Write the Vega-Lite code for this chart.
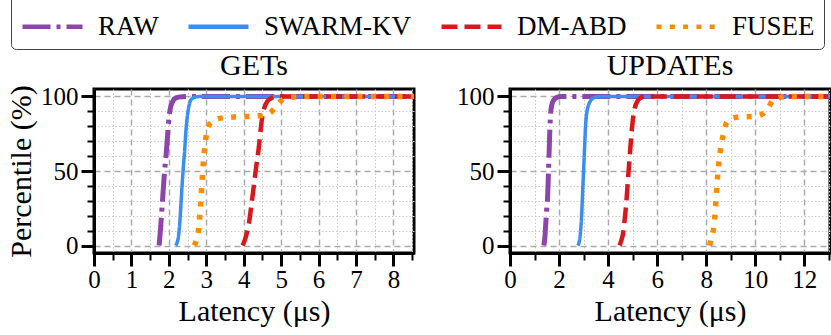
{
"$schema": "https://vega.github.io/schema/vega-lite/v6.json",
"background": "white",
"padding": {"left": 5, "top": -16, "right": 1, "bottom": 2},
"spacing": 39,
"data": {"values": [
{"panel":"GETs","series":"RAW","latency":1.74,"percentile":0},
{"panel":"GETs","series":"RAW","latency":1.78,"percentile":12},
{"panel":"GETs","series":"RAW","latency":1.83,"percentile":30},
{"panel":"GETs","series":"RAW","latency":1.88,"percentile":48},
{"panel":"GETs","series":"RAW","latency":1.93,"percentile":62},
{"panel":"GETs","series":"RAW","latency":1.97,"percentile":75},
{"panel":"GETs","series":"RAW","latency":2.0,"percentile":85},
{"panel":"GETs","series":"RAW","latency":2.04,"percentile":92},
{"panel":"GETs","series":"RAW","latency":2.1,"percentile":96.5},
{"panel":"GETs","series":"RAW","latency":2.19,"percentile":99},
{"panel":"GETs","series":"RAW","latency":2.35,"percentile":99.8},
{"panel":"GETs","series":"RAW","latency":2.6,"percentile":100},
{"panel":"GETs","series":"RAW","latency":8.55,"percentile":100},
{"panel":"GETs","series":"SWARM-KV","latency":2.18,"percentile":0},
{"panel":"GETs","series":"SWARM-KV","latency":2.25,"percentile":5},
{"panel":"GETs","series":"SWARM-KV","latency":2.3,"percentile":18},
{"panel":"GETs","series":"SWARM-KV","latency":2.34,"percentile":35},
{"panel":"GETs","series":"SWARM-KV","latency":2.38,"percentile":50},
{"panel":"GETs","series":"SWARM-KV","latency":2.42,"percentile":63},
{"panel":"GETs","series":"SWARM-KV","latency":2.46,"percentile":78},
{"panel":"GETs","series":"SWARM-KV","latency":2.5,"percentile":88},
{"panel":"GETs","series":"SWARM-KV","latency":2.55,"percentile":95},
{"panel":"GETs","series":"SWARM-KV","latency":2.62,"percentile":98.5},
{"panel":"GETs","series":"SWARM-KV","latency":2.72,"percentile":99.7},
{"panel":"GETs","series":"SWARM-KV","latency":2.9,"percentile":100},
{"panel":"GETs","series":"SWARM-KV","latency":8.55,"percentile":100},
{"panel":"GETs","series":"DM-ABD","latency":3.97,"percentile":0},
{"panel":"GETs","series":"DM-ABD","latency":4.02,"percentile":3},
{"panel":"GETs","series":"DM-ABD","latency":4.08,"percentile":8},
{"panel":"GETs","series":"DM-ABD","latency":4.14,"percentile":15},
{"panel":"GETs","series":"DM-ABD","latency":4.2,"percentile":26},
{"panel":"GETs","series":"DM-ABD","latency":4.27,"percentile":40},
{"panel":"GETs","series":"DM-ABD","latency":4.34,"percentile":54},
{"panel":"GETs","series":"DM-ABD","latency":4.4,"percentile":65},
{"panel":"GETs","series":"DM-ABD","latency":4.45,"percentile":77},
{"panel":"GETs","series":"DM-ABD","latency":4.5,"percentile":87},
{"panel":"GETs","series":"DM-ABD","latency":4.56,"percentile":93},
{"panel":"GETs","series":"DM-ABD","latency":4.64,"percentile":97},
{"panel":"GETs","series":"DM-ABD","latency":4.75,"percentile":99},
{"panel":"GETs","series":"DM-ABD","latency":4.9,"percentile":99.8},
{"panel":"GETs","series":"DM-ABD","latency":5.1,"percentile":100},
{"panel":"GETs","series":"DM-ABD","latency":8.55,"percentile":100},
{"panel":"GETs","series":"FUSEE","latency":2.68,"percentile":0},
{"panel":"GETs","series":"FUSEE","latency":2.75,"percentile":5},
{"panel":"GETs","series":"FUSEE","latency":2.8,"percentile":12},
{"panel":"GETs","series":"FUSEE","latency":2.84,"percentile":25},
{"panel":"GETs","series":"FUSEE","latency":2.88,"percentile":40},
{"panel":"GETs","series":"FUSEE","latency":2.92,"percentile":55},
{"panel":"GETs","series":"FUSEE","latency":2.96,"percentile":66},
{"panel":"GETs","series":"FUSEE","latency":3.0,"percentile":74},
{"panel":"GETs","series":"FUSEE","latency":3.06,"percentile":80},
{"panel":"GETs","series":"FUSEE","latency":3.15,"percentile":83},
{"panel":"GETs","series":"FUSEE","latency":3.3,"percentile":85},
{"panel":"GETs","series":"FUSEE","latency":3.6,"percentile":86},
{"panel":"GETs","series":"FUSEE","latency":4.0,"percentile":86.5},
{"panel":"GETs","series":"FUSEE","latency":4.4,"percentile":87},
{"panel":"GETs","series":"FUSEE","latency":4.6,"percentile":88},
{"panel":"GETs","series":"FUSEE","latency":4.75,"percentile":90},
{"panel":"GETs","series":"FUSEE","latency":4.85,"percentile":93},
{"panel":"GETs","series":"FUSEE","latency":4.95,"percentile":96},
{"panel":"GETs","series":"FUSEE","latency":5.05,"percentile":98},
{"panel":"GETs","series":"FUSEE","latency":5.3,"percentile":99.5},
{"panel":"GETs","series":"FUSEE","latency":5.6,"percentile":100},
{"panel":"GETs","series":"FUSEE","latency":8.55,"percentile":100},
{"panel":"UPDATEs","series":"RAW","latency":1.38,"percentile":0},
{"panel":"UPDATEs","series":"RAW","latency":1.42,"percentile":5},
{"panel":"UPDATEs","series":"RAW","latency":1.46,"percentile":15},
{"panel":"UPDATEs","series":"RAW","latency":1.5,"percentile":25},
{"panel":"UPDATEs","series":"RAW","latency":1.54,"percentile":35},
{"panel":"UPDATEs","series":"RAW","latency":1.57,"percentile":50},
{"panel":"UPDATEs","series":"RAW","latency":1.6,"percentile":65},
{"panel":"UPDATEs","series":"RAW","latency":1.63,"percentile":80},
{"panel":"UPDATEs","series":"RAW","latency":1.66,"percentile":89},
{"panel":"UPDATEs","series":"RAW","latency":1.7,"percentile":94},
{"panel":"UPDATEs","series":"RAW","latency":1.78,"percentile":97.5},
{"panel":"UPDATEs","series":"RAW","latency":1.9,"percentile":99.3},
{"panel":"UPDATEs","series":"RAW","latency":2.1,"percentile":100},
{"panel":"UPDATEs","series":"RAW","latency":13.05,"percentile":100},
{"panel":"UPDATEs","series":"SWARM-KV","latency":2.76,"percentile":0},
{"panel":"UPDATEs","series":"SWARM-KV","latency":2.83,"percentile":3},
{"panel":"UPDATEs","series":"SWARM-KV","latency":2.88,"percentile":10},
{"panel":"UPDATEs","series":"SWARM-KV","latency":2.92,"percentile":20},
{"panel":"UPDATEs","series":"SWARM-KV","latency":2.96,"percentile":35},
{"panel":"UPDATEs","series":"SWARM-KV","latency":3.0,"percentile":50},
{"panel":"UPDATEs","series":"SWARM-KV","latency":3.04,"percentile":65},
{"panel":"UPDATEs","series":"SWARM-KV","latency":3.08,"percentile":80},
{"panel":"UPDATEs","series":"SWARM-KV","latency":3.13,"percentile":89},
{"panel":"UPDATEs","series":"SWARM-KV","latency":3.2,"percentile":94},
{"panel":"UPDATEs","series":"SWARM-KV","latency":3.28,"percentile":97},
{"panel":"UPDATEs","series":"SWARM-KV","latency":3.4,"percentile":99},
{"panel":"UPDATEs","series":"SWARM-KV","latency":3.6,"percentile":99.8},
{"panel":"UPDATEs","series":"SWARM-KV","latency":4.0,"percentile":100},
{"panel":"UPDATEs","series":"SWARM-KV","latency":13.05,"percentile":100},
{"panel":"UPDATEs","series":"DM-ABD","latency":4.47,"percentile":0},
{"panel":"UPDATEs","series":"DM-ABD","latency":4.55,"percentile":4},
{"panel":"UPDATEs","series":"DM-ABD","latency":4.62,"percentile":9},
{"panel":"UPDATEs","series":"DM-ABD","latency":4.68,"percentile":18},
{"panel":"UPDATEs","series":"DM-ABD","latency":4.74,"percentile":28},
{"panel":"UPDATEs","series":"DM-ABD","latency":4.8,"percentile":42},
{"panel":"UPDATEs","series":"DM-ABD","latency":4.86,"percentile":55},
{"panel":"UPDATEs","series":"DM-ABD","latency":4.92,"percentile":68},
{"panel":"UPDATEs","series":"DM-ABD","latency":4.97,"percentile":78},
{"panel":"UPDATEs","series":"DM-ABD","latency":5.03,"percentile":87},
{"panel":"UPDATEs","series":"DM-ABD","latency":5.1,"percentile":93},
{"panel":"UPDATEs","series":"DM-ABD","latency":5.2,"percentile":97},
{"panel":"UPDATEs","series":"DM-ABD","latency":5.35,"percentile":99.3},
{"panel":"UPDATEs","series":"DM-ABD","latency":5.6,"percentile":100},
{"panel":"UPDATEs","series":"DM-ABD","latency":13.05,"percentile":100},
{"panel":"UPDATEs","series":"FUSEE","latency":8.14,"percentile":0},
{"panel":"UPDATEs","series":"FUSEE","latency":8.2,"percentile":4},
{"panel":"UPDATEs","series":"FUSEE","latency":8.28,"percentile":9},
{"panel":"UPDATEs","series":"FUSEE","latency":8.35,"percentile":19},
{"panel":"UPDATEs","series":"FUSEE","latency":8.39,"percentile":28},
{"panel":"UPDATEs","series":"FUSEE","latency":8.43,"percentile":38},
{"panel":"UPDATEs","series":"FUSEE","latency":8.47,"percentile":47},
{"panel":"UPDATEs","series":"FUSEE","latency":8.52,"percentile":56},
{"panel":"UPDATEs","series":"FUSEE","latency":8.59,"percentile":65},
{"panel":"UPDATEs","series":"FUSEE","latency":8.69,"percentile":74},
{"panel":"UPDATEs","series":"FUSEE","latency":8.85,"percentile":83},
{"panel":"UPDATEs","series":"FUSEE","latency":9.1,"percentile":85.5},
{"panel":"UPDATEs","series":"FUSEE","latency":9.4,"percentile":86.3},
{"panel":"UPDATEs","series":"FUSEE","latency":9.9,"percentile":86.6},
{"panel":"UPDATEs","series":"FUSEE","latency":10.2,"percentile":87.5},
{"panel":"UPDATEs","series":"FUSEE","latency":10.4,"percentile":89.7},
{"panel":"UPDATEs","series":"FUSEE","latency":10.55,"percentile":93},
{"panel":"UPDATEs","series":"FUSEE","latency":10.72,"percentile":97.5},
{"panel":"UPDATEs","series":"FUSEE","latency":10.9,"percentile":99},
{"panel":"UPDATEs","series":"FUSEE","latency":11.3,"percentile":100},
{"panel":"UPDATEs","series":"FUSEE","latency":13.05,"percentile":100}
]},
"config": {
  "font": "Liberation Serif",
  "view": {"stroke": "black", "strokeWidth": 3},
  "axis": {
    "domainColor": "black", "domainWidth": 3, "tickColor": "black",
    "labelFont": "Liberation Serif", "labelFontSize": 25, "labelColor": "black",
    "titleFont": "Liberation Serif", "titleFontSize": 30, "titleFontWeight": "normal", "titleColor": "black",
    "labelOverlap": false, "labelFlush": false, "labelPadding": 3, "titlePadding": 4, "format": ".0f"
  },
  "axisX": {"labelPadding": 1},
  "title": {"font": "Liberation Serif", "fontSize": 30, "fontWeight": "normal", "color": "black", "offset": 3}
},
"hconcat": [
  {
    "title": {"text": "GETs", "font": "Liberation Serif", "fontSize": 30, "fontWeight": "normal", "offset": 3},
    "width": 320, "height": 164,
    "transform": [{"filter": "datum.panel === 'GETs'"}],
    "encoding": {
      "x": {"field": "latency", "type": "quantitative",
        "scale": {"domain": [0, 8.55], "nice": false, "zero": false},
        "axis": {"title": "Latency (μs)", "format": ".0f",
          "values": [0,0.5,1,1.5,2,2.5,3,3.5,4,4.5,5,5.5,6,6.5,7,7.5,8,8.5],
          "labelExpr": "datum.value % 1 === 0 ? datum.label : ''",
          "tickSize": {"condition": {"test": "datum.value % 1 !== 0", "value": 7}, "value": 13},
          "tickWidth": {"condition": {"test": "datum.value % 1 !== 0", "value": 2}, "value": 3},
          "gridDash": {"condition": {"test": "datum.value % 1 !== 0", "value": [1.5, 2]}, "value": [6, 4]},
          "gridColor": {"condition": {"test": "datum.value % 1 !== 0", "value": "#c8c8c8"}, "value": "#aaaaaa"},
          "gridWidth": {"condition": {"test": "datum.value % 1 !== 0", "value": 1}, "value": 1.5}
        }},
      "y": {"field": "percentile", "type": "quantitative",
        "scale": {"domain": [-5, 105], "nice": false, "zero": false},
        "axis": {"title": "Percentile (%)",
          "values": [0,10,20,30,40,50,60,70,80,90,100],
          "labelExpr": "datum.value % 50 === 0 ? datum.label : ''",
          "tickSize": {"condition": {"test": "datum.value % 50 !== 0", "value": 7}, "value": 13},
          "tickWidth": {"condition": {"test": "datum.value % 50 !== 0", "value": 2}, "value": 3},
          "gridDash": {"condition": {"test": "datum.value % 50 !== 0", "value": [1.5, 2]}, "value": [6, 4]},
          "gridColor": {"condition": {"test": "datum.value % 50 !== 0", "value": "#c8c8c8"}, "value": "#aaaaaa"},
          "gridWidth": {"condition": {"test": "datum.value % 50 !== 0", "value": 1}, "value": 1.5}
        }},
      "color": {"field": "series", "type": "nominal",
        "scale": {"domain": ["RAW", "SWARM-KV", "DM-ABD", "FUSEE"], "range": ["#8E44AD", "#3A8EF0", "#D7191C", "#FF8C00"]},
        "legend": {"title": null, "orient": "none", "legendX": -83, "legendY": -104,
          "direction": "horizontal", "symbolType": "stroke", "symbolSize": 3600, "symbolStrokeWidth": 4.5,
          "labelFont": "Liberation Serif", "labelFontSize": 27, "labelColor": "black", "labelLimit": 0,
          "labelOffset": 13, "columnPadding": 20, "strokeColor": "#444444", "cornerRadius": 5,
          "padding": 9, "fillColor": "white"}},
      "strokeDash": {"field": "series", "type": "nominal",
        "scale": {"domain": ["RAW", "SWARM-KV", "DM-ABD", "FUSEE"], "range": [[28, 6, 4, 6], [1, 0], [16, 7], [5, 8.3]]},
        "legend": {"title": null}}
    },
    "layer": [
      {"transform": [{"filter": "datum.series === 'RAW'"}], "mark": {"type": "line", "interpolate": "monotone", "clip": true, "strokeWidth": 5}},
      {"transform": [{"filter": "datum.series === 'SWARM-KV'"}], "mark": {"type": "line", "interpolate": "monotone", "clip": true, "strokeWidth": 3.5}},
      {"transform": [{"filter": "datum.series === 'DM-ABD'"}], "mark": {"type": "line", "interpolate": "monotone", "clip": true, "strokeWidth": 4.5}},
      {"transform": [{"filter": "datum.series === 'FUSEE'"}], "mark": {"type": "line", "interpolate": "monotone", "clip": true, "strokeWidth": 5.5}}
    ]
  },
  {
    "title": {"text": "UPDATEs", "font": "Liberation Serif", "fontSize": 30, "fontWeight": "normal", "offset": 3},
    "width": 320, "height": 164,
    "transform": [{"filter": "datum.panel === 'UPDATEs'"}],
    "encoding": {
      "x": {"field": "latency", "type": "quantitative",
        "scale": {"domain": [0, 13.05], "nice": false, "zero": false},
        "axis": {"title": "Latency (μs)", "format": ".0f",
          "values": [0,1,2,3,4,5,6,7,8,9,10,11,12,13],
          "labelExpr": "datum.value % 2 === 0 ? datum.label : ''",
          "tickSize": {"condition": {"test": "datum.value % 2 !== 0", "value": 7}, "value": 13},
          "tickWidth": {"condition": {"test": "datum.value % 2 !== 0", "value": 2}, "value": 3},
          "gridDash": {"condition": {"test": "datum.value % 2 !== 0", "value": [1.5, 2]}, "value": [6, 4]},
          "gridColor": {"condition": {"test": "datum.value % 2 !== 0", "value": "#c8c8c8"}, "value": "#aaaaaa"},
          "gridWidth": {"condition": {"test": "datum.value % 2 !== 0", "value": 1}, "value": 1.5}
        }},
      "y": {"field": "percentile", "type": "quantitative",
        "scale": {"domain": [-5, 105], "nice": false, "zero": false},
        "axis": {"title": null,
          "values": [0,10,20,30,40,50,60,70,80,90,100],
          "labelExpr": "datum.value % 50 === 0 ? datum.label : ''",
          "tickSize": {"condition": {"test": "datum.value % 50 !== 0", "value": 7}, "value": 13},
          "tickWidth": {"condition": {"test": "datum.value % 50 !== 0", "value": 2}, "value": 3},
          "gridDash": {"condition": {"test": "datum.value % 50 !== 0", "value": [1.5, 2]}, "value": [6, 4]},
          "gridColor": {"condition": {"test": "datum.value % 50 !== 0", "value": "#c8c8c8"}, "value": "#aaaaaa"},
          "gridWidth": {"condition": {"test": "datum.value % 50 !== 0", "value": 1}, "value": 1.5}
        }},
      "color": {"field": "series", "type": "nominal",
        "scale": {"domain": ["RAW", "SWARM-KV", "DM-ABD", "FUSEE"], "range": ["#8E44AD", "#3A8EF0", "#D7191C", "#FF8C00"]},
        "legend": {"title": null}},
      "strokeDash": {"field": "series", "type": "nominal",
        "scale": {"domain": ["RAW", "SWARM-KV", "DM-ABD", "FUSEE"], "range": [[28, 6, 4, 6], [1, 0], [16, 7], [5, 8.3]]},
        "legend": {"title": null}}
    },
    "layer": [
      {"transform": [{"filter": "datum.series === 'RAW'"}], "mark": {"type": "line", "interpolate": "monotone", "clip": true, "strokeWidth": 5}},
      {"transform": [{"filter": "datum.series === 'SWARM-KV'"}], "mark": {"type": "line", "interpolate": "monotone", "clip": true, "strokeWidth": 3.5}},
      {"transform": [{"filter": "datum.series === 'DM-ABD'"}], "mark": {"type": "line", "interpolate": "monotone", "clip": true, "strokeWidth": 4.5}},
      {"transform": [{"filter": "datum.series === 'FUSEE'"}], "mark": {"type": "line", "interpolate": "monotone", "clip": true, "strokeWidth": 5.5}}
    ]
  }
]
}
